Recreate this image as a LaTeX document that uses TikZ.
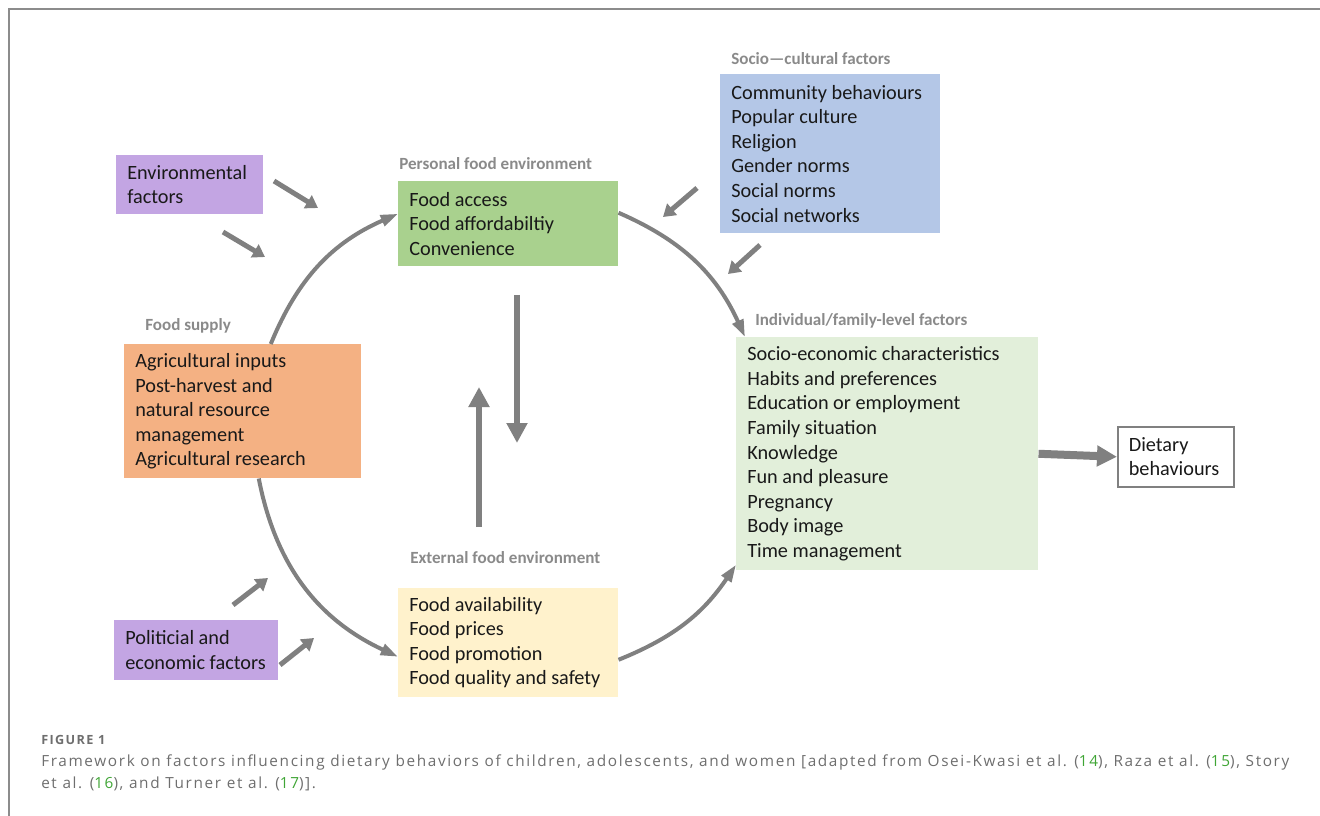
\documentclass[tikz,border=0pt]{standalone}
\usepackage{fontspec}
\setmainfont{Carlito}
\newfontfamily\capfont{Open Sans}[LetterSpace=10.7]
\usetikzlibrary{calc, positioning, arrows.meta}

\definecolor{factpurple}{HTML}{C3A5E3}
\definecolor{persgreen}{HTML}{A9D18E}
\definecolor{socioblue}{HTML}{B4C7E7}
\definecolor{supplyorange}{HTML}{F4B183}
\definecolor{indivgreen}{HTML}{E2EFDA}
\definecolor{extyellow}{HTML}{FFF2CC}
\definecolor{arrowgray}{HTML}{808080}
\definecolor{titlegray}{HTML}{8A8A8A}
\definecolor{framegray}{HTML}{8C8C8C}
\definecolor{capgray}{HTML}{6E6E6E}
\definecolor{refgreen}{HTML}{3FA535}

\begin{document}
\begin{tikzpicture}[x=0.75pt, y=-0.75pt,
  box/.style={anchor=north west, inner xsep=8.25pt, inner ysep=0pt, align=flush left,
    font=\fontsize{15.2}{18.4}\selectfont, text=black!90},
  title/.style={anchor=west, inner sep=0pt, font=\bfseries\fontsize{12.8}{15}\selectfont, text=titlegray},
  ring/.style={line width=3pt, draw=arrowgray, -{Triangle[length=13pt,width=8.5pt]}},
  push/.style={line width=3.75pt, draw=arrowgray, -{Triangle[length=9pt,width=11pt]}},
  flow/.style={line width=5pt, draw=arrowgray, -{Triangle[length=15pt,width=15pt]}},
  capline/.style={anchor=west, inner sep=0pt, font=\capfont\fontsize{11.5}{13.5}\selectfont, text=capgray}]

  \useasboundingbox (0,0) rectangle (1320,816);
  \draw[framegray, line width=1.5pt] (9,816) -- (9,9) -- (1320,9);

  % Boxes
  \node[box, fill=factpurple, text width=93.75pt, minimum height=44.25pt] (env) at (116,155)
    {Environmental\\factors};
  \node[box, fill=persgreen, text width=148.5pt, minimum height=63.75pt] (personal) at (398,181)
    {Food access\\Food affordabiltiy\\Convenience};
  \node[box, fill=socioblue, text width=148.5pt, minimum height=119.25pt] (socio) at (720,74)
    {Community behaviours\\Popular culture\\Religion\\Gender norms\\Social norms\\Social networks};
  \node[box, fill=supplyorange, text width=161.25pt, minimum height=100.5pt] (supply) at (124,344)
    {Agricultural inputs\\Post-harvest and\\natural resource\\management\\Agricultural research};
  \node[box, fill=indivgreen, text width=210pt, minimum height=174.75pt] (indiv) at (736,337)
    {Socio-economic characteristics\\Habits and preferences\\Education or employment\\Family situation\\Knowledge\\Fun and pleasure\\Pregnancy\\Body image\\Time management};
  \node[box, fill=extyellow, text width=148.5pt, minimum height=81.75pt] (external) at (398,588)
    {Food availability\\Food prices\\Food promotion\\Food quality and safety};
  \node[box, fill=factpurple, text width=106.5pt, minimum height=45pt] (polit) at (114,620)
    {Politicial and\\economic factors};
  \node[box, draw=arrowgray, line width=1.2pt, text width=70.5pt, minimum height=45pt] (diet) at (1117,426)
    {Dietary\\behaviours};

  % Titles
  \node[title] (personalT) at (399,164) {Personal food environment};
  \node[title] (socioT) at (731,59) {Socio---cultural factors};
  \node[title] (supplyT) at (145,326) {Food supply};
  \node[title] (indivT) at (755,321) {Individual/family-level factors};
  \node[title] (externalT) at (410,558) {External food environment};

  % Ring of arcs
  \draw[ring] ($(supply.north)+(28,0)$) to[bend left=22] ($(personal.west)+(0,-10)$);
  \draw[ring] ($(personal.east)+(0,-11)$) to[bend left=21] ($(indiv.north west)+(9,0)$);
  \draw[ring] ($(supply.south)+(16,0)$) to[bend right=27] ($(external.west)+(0,14)$);
  \draw[ring] ($(external.east)+(0,17)$) to[bend right=17] ($(indiv.west)+(0,111)$);

  % Free-standing influence arrows
  \coordinate (env1a) at (274,181);  \coordinate (env1b) at (318,208);
  \coordinate (env2a) at (223,232);  \coordinate (env2b) at (265,257);
  \coordinate (soc1a) at (697,188);  \coordinate (soc1b) at (663,217);
  \coordinate (soc2a) at (760,245);  \coordinate (soc2b) at (728,274);
  \coordinate (pol1a) at (233,605);  \coordinate (pol1b) at (268,578);
  \coordinate (pol2a) at (280,665);  \coordinate (pol2b) at (314,638);
  \foreach \a/\b in {env1a/env1b, env2a/env2b, soc1a/soc1b, soc2a/soc2b, pol1a/pol1b, pol2a/pol2b}
    \draw[push] (\a) -- (\b);

  % Exchange between personal and external environment
  \coordinate (downA) at (517,295);  \coordinate (downB) at (517,443);
  \coordinate (upA) at (479,527);    \coordinate (upB) at (479,387);
  \draw[flow] (downA) -- (downB);
  \draw[flow] (upA) -- (upB);

  % Outcome
  \draw[flow, line width=6pt] (indiv.east) -- (diet.west);

  % Caption
  \node[capline, font=\capfont\bfseries\fontsize{9.5}{11}\selectfont] (figno) at (41,740) {FIGURE 1};
  \node[capline] (cap1) at (41,762) {Framework on factors influencing dietary behaviors of children, adolescents, and women [adapted from Osei-Kwasi et al. (\textcolor{refgreen}{14}), Raza et al. (\textcolor{refgreen}{15}), Story};
  \node[capline] (cap2) at (41,784) {et al. (\textcolor{refgreen}{16}), and Turner et al. (\textcolor{refgreen}{17})].};
\end{tikzpicture}
\end{document}
